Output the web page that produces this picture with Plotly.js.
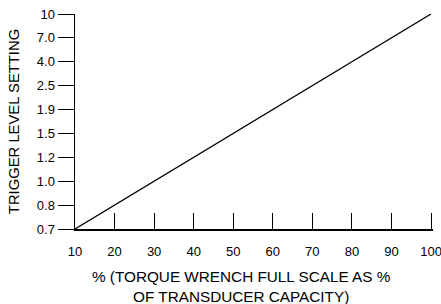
<!DOCTYPE html>
<html>
<head>
<meta charset="utf-8">
<script src="https://cdn.plot.ly/plotly-3.0.1.min.js"></script>
<style>html,body{margin:0;padding:0;background:#fff;}#chart{width:441px;height:304px;}</style>
</head>
<body>
<div id="chart"></div>
<script>
const yCategories = ['0.7','0.8','1.0','1.2','1.5','1.9','2.5','4.0','7.0','10'];
const xTicks = [10,20,30,40,50,60,70,80,90,100];
const lineX = [10, 100];
const lineY = ['0.7', '10'];
const yTitle = 'TRIGGER LEVEL SETTING';
const xTitleText = '% (TORQUE WRENCH FULL SCALE AS %<br>OF TRANSDUCER CAPACITY)';

const font = {family: 'Liberation Sans, Arial, sans-serif', color: '#000'};

Plotly.newPlot('chart', [{
  x: lineX, y: lineY, type: 'scatter', mode: 'lines',
  line: {color: '#000', width: 1.3}, hoverinfo: 'skip', cliponaxis: false
}], {
  width: 441, height: 304,
  margin: {l: 75, r: 8, t: 14, b: 75},
  paper_bgcolor: '#fff', plot_bgcolor: '#fff',
  showlegend: false,
  font: Object.assign({size: 13}, font),
  xaxis: {
    range: [10, 100.5], tickvals: xTicks, ticktext: xTicks.map(String),
    ticks: 'inside', ticklen: 16, tickwidth: 1, tickcolor: '#000',
    ticklabelstandoff: 10, ticklabeloverflow: 'allow',
    showline: true, linecolor: '#000', linewidth: 1.5,
    showgrid: false, zeroline: false,
    tickfont: Object.assign({size: 13}, font)
  },
  yaxis: {
    type: 'category', categoryorder: 'array', categoryarray: yCategories,
    range: [0, yCategories.length - 1],
    ticks: 'outside', ticklen: 16, tickwidth: 1, tickcolor: '#000',
    showline: true, linecolor: '#000', linewidth: 1.5,
    showgrid: false, zeroline: false,
    tickfont: Object.assign({size: 13}, font),
    title: {text: yTitle, font: Object.assign({size: 14.8}, font), standoff: 13}
  },
  annotations: [{
    xref: 'paper', yref: 'paper', x: 0.466, y: -0.268,
    xanchor: 'center', yanchor: 'middle', align: 'center',
    text: xTitleText, showarrow: false,
    font: Object.assign({size: 15.3}, font)
  }]
}, {displayModeBar: false, staticPlot: true});
</script>
</body>
</html>
